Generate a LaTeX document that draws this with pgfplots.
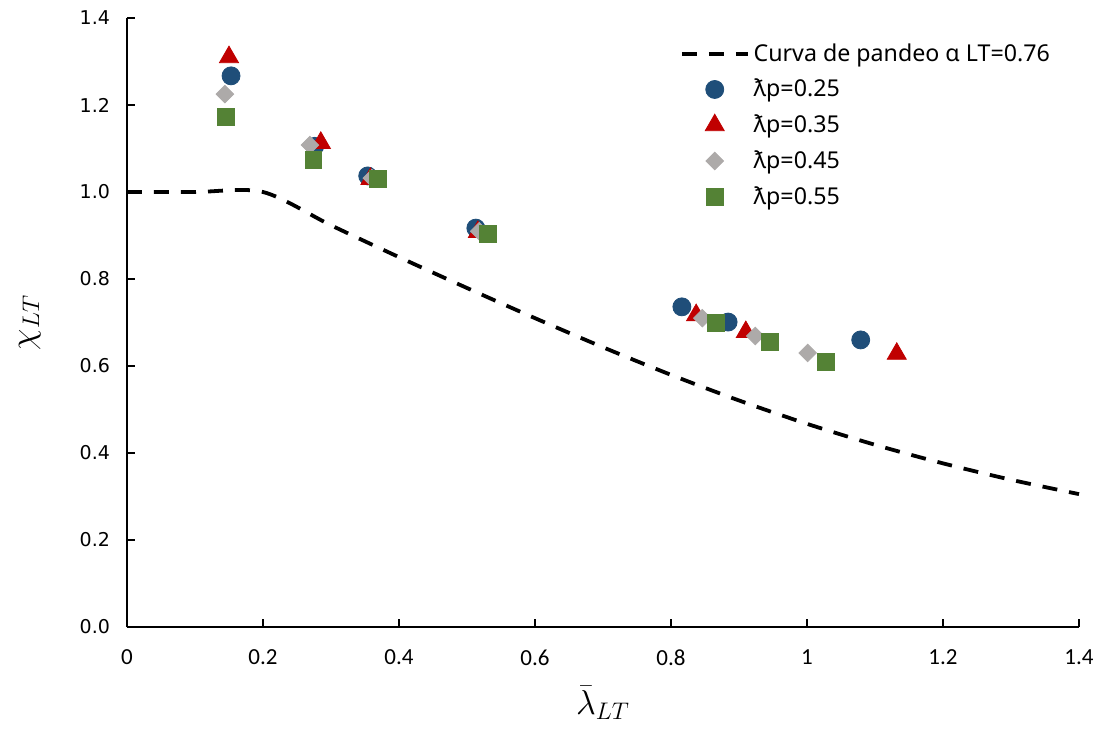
\documentclass[border=0pt]{standalone}
\usepackage{pgfplots}
\pgfplotsset{compat=1.18}
\usepackage{fontspec}
\newfontfamily\yfont{DejaVu Sans}
\newfontfamily\xfont{Carlito}
\newfontfamily\legfont{Noto Sans}
\definecolor{cblue}{HTML}{1F4E79}
\definecolor{cred}{HTML}{C00000}
\definecolor{cgray}{HTML}{ADAAA9}
\definecolor{cgreen}{HTML}{548235}
\pgfplotsset{
  lineleg/.style={legend image code/.code={\draw[##1] (0pt,0pt) -- (33pt,0pt);}},
  markleg/.style={legend image code/.code={\draw[mark repeat=2,mark phase=2,##1] plot coordinates {(0pt,0pt)(16.5pt,0pt)(33pt,0pt)};}},
}
\begin{document}
\begin{tikzpicture}
\useasboundingbox (-63.5pt,-51.5pt) rectangle (486.5pt,313.5pt);
\begin{axis}[
  scale only axis, width=476pt, height=304.5pt,
  xmin=0, xmax=1.4, ymin=0, ymax=1.4,
  axis x line*=bottom, axis y line*=left,
  axis line style={line width=0.9pt, -},
  tick align=inside, major tick length=4pt,
  tick style={line width=0.7pt, black},
  xtick={0,0.2,0.4,0.6,0.8,1,1.2,1.4},
  ytick={0,0.2,0.4,0.6,0.8,1,1.2,1.4},
  /pgf/number format/assume math mode=true,
  xticklabel style={font=\xfont\fontsize{11.5}{13}\selectfont, yshift=-8pt},
  yticklabel style={font=\yfont\fontsize{9.5}{11}\selectfont,
    /pgf/number format/fixed, /pgf/number format/fixed zerofill,
    /pgf/number format/precision=1, xshift=-5pt},
  xlabel={$\bar{\lambda}_{LT}$}, ylabel={$\chi_{LT}$},
  label style={font=\fontsize{18}{21}\selectfont},
  xlabel style={at={(axis description cs:0.5,-0.125)}, anchor=center},
  ylabel style={at={(axis description cs:-0.102,0.5)}, anchor=center},
  legend style={at={(rel axis cs:0.574,0.972)}, anchor=north west,
    draw=none, fill=none, font=\legfont\fontsize{11.6}{13.5}\selectfont,
    row sep=3.5pt},
  legend cell align=left,
  clip=false,
]
\addplot[black, line width=1.9pt, dash pattern=on 7.5pt off 6pt, smooth, lineleg]
  coordinates {(0,1) (0.1,1) (0.2,1) (0.3,0.9235) (0.4,0.8503) (0.5,0.7793)
  (0.6,0.7100) (0.7,0.6431) (0.8,0.5797) (0.9,0.5208) (1.0,0.4671)
  (1.1,0.4189) (1.2,0.3762) (1.3,0.3385) (1.4,0.3055)};
\addlegendentry{Curva de pandeo α LT=0.76}
\addplot[only marks, mark=*, mark size=4.5pt, color=cblue, markleg]
  coordinates {(0.153,1.267) (0.276,1.105) (0.354,1.037) (0.513,0.917)
  (0.816,0.736) (0.884,0.701) (1.079,0.660)};
\addlegendentry{ƛp=0.25}
\addplot[only marks, mark=triangle*, mark size=5.5pt, color=cred, markleg]
  coordinates {(0.150,1.31) (0.285,1.113) (0.358,1.030) (0.516,0.908)
  (0.837,0.717) (0.910,0.678) (1.132,0.628)};
\addlegendentry{ƛp=0.35}
\addplot[only marks, mark=square*, mark size=3.1pt, mark options={rotate=45}, color=cgray, markleg]
  coordinates {(0.144,1.225) (0.269,1.108) (0.360,1.032) (0.518,0.910)
  (0.846,0.710) (0.924,0.669) (1.001,0.630)};
\addlegendentry{ƛp=0.45}
\addplot[only marks, mark=square*, mark size=4.2pt, color=cgreen, markleg]
  coordinates {(0.146,1.172) (0.274,1.074) (0.369,1.030) (0.531,0.903)
  (0.866,0.699) (0.946,0.655) (1.028,0.609)};
\addlegendentry{ƛp=0.55}
\end{axis}
\end{tikzpicture}
\end{document}
